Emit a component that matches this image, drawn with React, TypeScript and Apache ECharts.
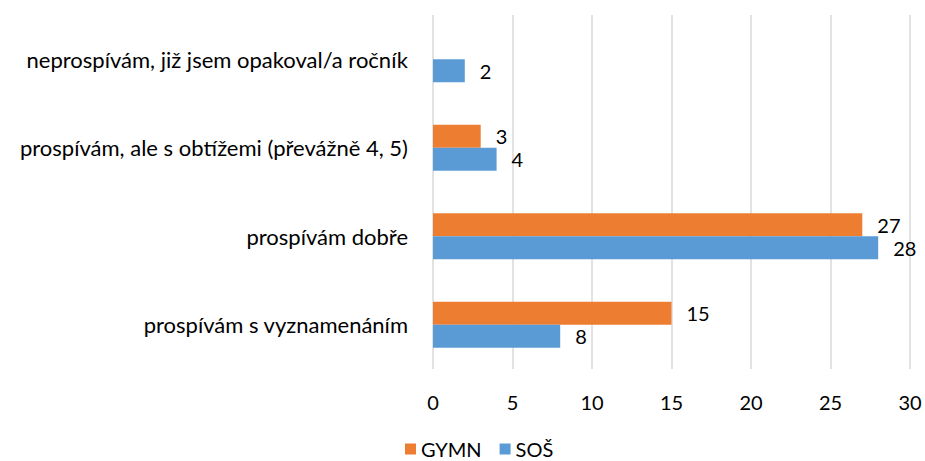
import React, { useEffect, useRef } from "react";
import * as echarts from "echarts";

const categories = [
  "prospívám s vyznamenáním",
  "prospívám dobře",
  "prospívám, ale s obtížemi (převážně 4, 5)",
  "neprospívám, již jsem opakoval/a ročník",
];
const gymn: (number | null)[] = [15, 27, 3, null];
const sos: number[] = [8, 28, 4, 2];
const xTicks = { min: 0, max: 30, interval: 5 };

const FONT = "Lato, 'Open Sans', sans-serif";

export default function App() {
  const ref = useRef<HTMLDivElement>(null);
  useEffect(() => {
    if (!ref.current) return;
    const chart = echarts.init(ref.current, null, { renderer: "svg" });
    chart.setOption({
      animation: false,
      textStyle: { fontFamily: FONT },
      grid: { left: 433, right: 15, top: 15, bottom: 92, containLabel: false },
      legend: {
        data: ["GYMN", "SOŠ"],
        bottom: -3,
        left: 400,
        itemWidth: 11,
        itemHeight: 11,
        itemGap: 18,
        icon: "rect",
        textStyle: { fontSize: 20, color: "#000", fontFamily: FONT },
      },
      xAxis: {
        type: "value",
        min: xTicks.min,
        max: xTicks.max,
        interval: xTicks.interval,
        axisLine: { show: false },
        axisTick: { show: false },
        axisLabel: { fontSize: 20, color: "#000", margin: 23, fontFamily: FONT },
        splitLine: { lineStyle: { color: "#d9d9d9", width: 1.5 } },
      },
      yAxis: {
        type: "category",
        data: categories,
        axisLine: { show: false },
        axisTick: { show: false },
        axisLabel: { fontSize: 22, color: "#000", margin: 25, fontFamily: FONT },
      },
      series: [
        {
          name: "GYMN",
          type: "bar",
          data: gymn,
          barCategoryGap: "48%",
          barGap: "0%",
          itemStyle: { color: "#ED7D31" },
          label: { show: true, position: "right", distance: 15, fontSize: 20, color: "#000", fontFamily: FONT },
        },
        {
          name: "SOŠ",
          type: "bar",
          data: sos,
          barCategoryGap: "48%",
          barGap: "0%",
          itemStyle: { color: "#5B9BD5" },
          label: { show: true, position: "right", distance: 15, fontSize: 20, color: "#000", fontFamily: FONT },
        },
      ],
    });
    return () => chart.dispose();
  }, []);
  return <div ref={ref} style={{ width: 925, height: 461, position: "absolute", left: 0, top: 0 }} />;
}
